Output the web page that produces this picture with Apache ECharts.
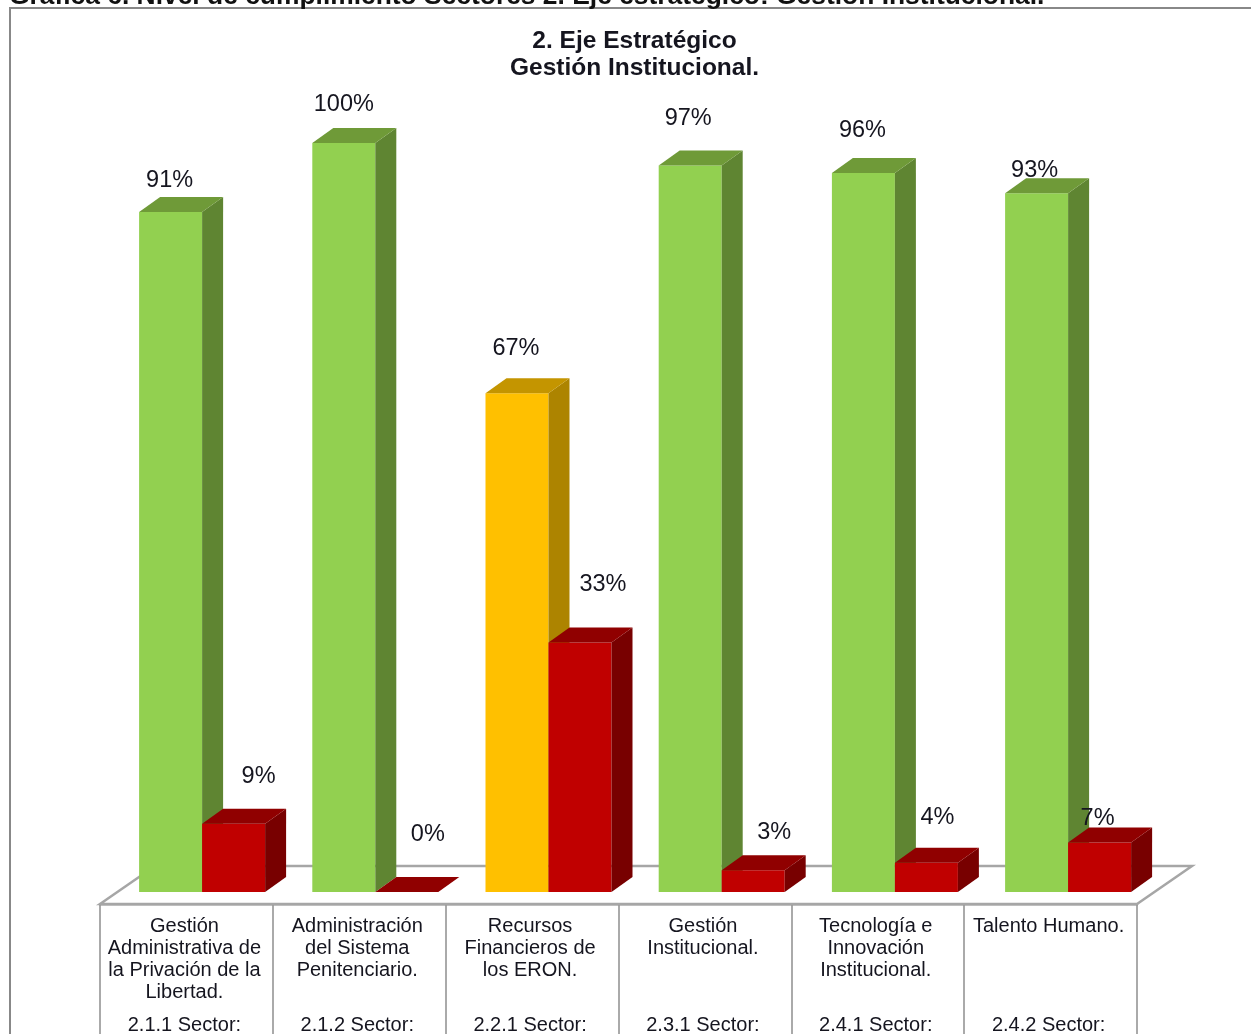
<!DOCTYPE html>
<html><head><meta charset="utf-8">
<style>html,body{margin:0;padding:0;background:#fff;overflow:hidden}#c{width:1251px;height:1034px}</style>
<script src="https://cdn.jsdelivr.net/npm/echarts@6/dist/echarts.min.js"></script>
</head><body><div id="c"></div>
<script>
const titleLines = ['2. Eje Estratégico', 'Gestión Institucional.'];
const pageHeading = 'Gráfica 6. Nivel de cumplimiento Sectores 2. Eje estratégico: Gestión Institucional.';
const categories = [
  ['Gestión','Administrativa de','la Privación de la','Libertad.'],
  ['Administración','del Sistema','Penitenciario.'],
  ['Recursos','Financieros de','los ERON.'],
  ['Gestión','Institucional.'],
  ['Tecnología e','Innovación','Institucional.'],
  ['Talento Humano.']
];
const sectors = ['2.1.1 Sector:','2.1.2 Sector:','2.2.1 Sector:','2.3.1 Sector:','2.4.1 Sector:','2.4.2 Sector:'];
const cumplido = [90.8, 100, 66.6, 97, 96, 93.3];
const pendiente = [9.1, 0, 33.3, 2.9, 3.9, 6.6];
const cumplidoKinds = ['ok','ok','warn','ok','ok','ok'];

const palette = {
  ok:   {front:'#92D050', top:'#6F9A38', side:'#5F8532'},
  warn: {front:'#FFC000', top:'#C49500', side:'#AD8400'},
  bad:  {front:'#C00000', top:'#900000', side:'#780000'}
};
const barW = 63, dx = 21, dy = 15;
const greenLabelOffset = [[-1,-31],[0,-38],[-1,-45],[-2,-47],[-1,-42],[-2,-23]];
const redLabelOffset = [[25,-47],[21,-57],[23,-58],[21,-38],[11,-45],[-2,-24]];

function bar(side, data, kinds, labelOffset) {
  return {
    type:'custom', coordinateSystem:'cartesian2d', xAxisIndex:0, yAxisIndex:0,
    clip:false, silent:true, z:side < 0 ? 3 : 4,
    data: data.map((v,i)=>[i,v]),
    renderItem(params, api){
      const i = api.value(0), v = api.value(1);
      const base = api.coord([i,0]), tp = api.coord([i,v]);
      const x0 = side < 0 ? base[0]-barW : base[0], x1 = x0+barW;
      const y0 = base[1], y1 = tp[1];
      const c = palette[kinds ? kinds[i] : 'bad'];
      const poly = (pts,fill)=>({type:'polygon',shape:{points:pts},style:{fill}});
      const children = [];
      if (y0 - y1 > 0.5) {
        children.push(poly([[x0,y1],[x1,y1],[x1,y0],[x0,y0]],c.front));
        children.push(poly([[x1,y1],[x1+dx,y1-dy],[x1+dx,y0-dy],[x1,y0]],c.side));
      }
      children.push(poly([[x0,y1],[x0+dx,y1-dy],[x1+dx,y1-dy],[x1,y1]],c.top));
      const o = labelOffset[i];
      children.push({type:'text',x:(x0+x1)/2+o[0],y:y1+o[1],z2:10,
        style:{text:Math.round(v)+'%',fill:'#15151f',font:'23.5px "Liberation Sans",Arial,sans-serif',
               align:'center',verticalAlign:'middle'}});
      return {type:'group',children};
    }
  };
}

const chart = echarts.init(document.getElementById('c'),null,{renderer:'canvas'});
chart.setOption({
  animation:false, backgroundColor:'#fff',
  title:[{
    text:titleLines.join('\n'), left:629.5, top:23, textAlign:'center',
    textStyle:{fontFamily:'"Liberation Sans",Arial,sans-serif',fontWeight:'bold',fontSize:24.5,lineHeight:27,color:'#15151f'}
  },{
    text:pageHeading, left:4, top:-21,
    textStyle:{fontFamily:'"Liberation Sans",Arial,sans-serif',fontWeight:'bold',fontSize:26.4,color:'#111'}
  }],
  grid:[
    {left:115.5, width:1039.2, top:143, height:749, containLabel:false},
    {left:100, width:1037, top:904, height:1, containLabel:false}
  ],
  xAxis:[
    {gridIndex:0,type:'category',data:sectors,show:false},
    {gridIndex:1,type:'category',data:sectors,position:'bottom',
     axisLine:{show:true,lineStyle:{color:'#B4B4B4',width:2.5}},
     axisTick:{show:true,length:140,lineStyle:{color:'#8f8f8f',width:1.5}},
     axisLabel:{show:true,interval:0,margin:11,padding:[0,4,0,0],hideOverlap:false,
       formatter:(val,idx)=>{
         const L = categories[idx].slice();
         while (L.length<4) L.push(' ');
         return L.map(t=>'{g|'+t+'}').join('\n')+'\n{s|'+val+'}';
       },
       rich:{
         g:{fontFamily:'"Liberation Sans",Arial,sans-serif',fontSize:20,lineHeight:22,color:'#15151f'},
         s:{fontFamily:'"Liberation Sans",Arial,sans-serif',fontSize:20,lineHeight:44,color:'#15151f'}
       }}}
  ],
  yAxis:[
    {gridIndex:0,type:'value',min:0,max:100,show:false},
    {gridIndex:1,type:'value',min:0,max:1,show:false}
  ],
  series:[
    {type:'custom',coordinateSystem:'cartesian2d',xAxisIndex:1,yAxisIndex:1,silent:true,clip:false,z:1,
     data:[[0,0]],
     renderItem(params){
       const g = params.coordSys;
       const l = g.x, r = g.x+g.width, f = g.y, b = f-38, s = 55;
       return {type:'polygon',shape:{points:[[l,f],[l+s,b],[r+s,b],[r,f]]},
         style:{fill:'#fff',stroke:'#A6A6A6',lineWidth:2.5}};
     }},
    bar(-1,cumplido,cumplidoKinds,greenLabelOffset),
    bar(1,pendiente,null,redLabelOffset)
  ],
  graphic:[{type:'rect',z:-1,silent:true,
    shape:{x:10,y:8,width:1300,height:1100},style:{fill:'#fff',stroke:'#888',lineWidth:2}}]
});
</script></body></html>
